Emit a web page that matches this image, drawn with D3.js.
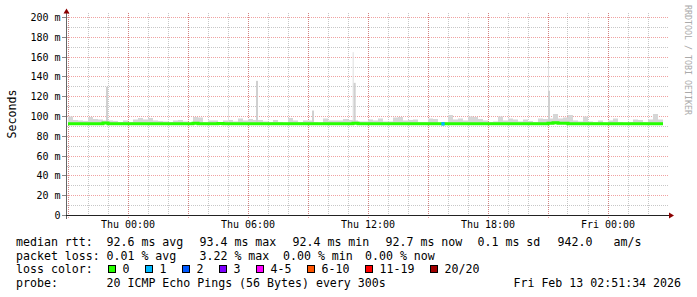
<!DOCTYPE html>
<html>
<head>
<meta charset="utf-8">
<script src="https://cdn.jsdelivr.net/npm/d3@7"></script>
<style>
  html, body { margin: 0; padding: 0; background: #fff; }
  svg { display: block; font-family: "DejaVu Sans Mono", monospace; }
  text { white-space: pre; }
</style>
</head>
<body>
<svg id="chart" width="697" height="297"></svg>
<script>
// time window of the graph (30 h ending at render time)
const startTime = new Date(2026, 1, 11, 20, 57);
const endTime = new Date(2026, 1, 13, 2, 57);
const binStart = new Date(2026, 1, 11, 21, 0);
const binMinutes = 15;

// upper edge of the smoke (max ping) per 15 min bin, ms
const smokeTop = [
  100, 96.5, 96, 95.5, 99.5, 97.5, 97, 96, 96, 95.5,
  94.5, 96, 94.5, 97, 98.5, 97, 98.5, 96, 95.5, 95,
  94.5, 96, 96.5, 95, 94, 99.5, 99, 94.5, 96, 96,
  94.5, 96, 96.5, 95, 98, 96, 97.5, 96.5, 96.5, 95,
  94.5, 96.5, 94.5, 94, 98.5, 96, 94.5, 96, 96, 94.5,
  94, 98, 96, 96, 96, 97.5, 96.5, 96, 95, 95,
  97, 96, 98, 95, 95, 99, 99.5, 96, 96.5, 97,
  94.5, 94.5, 98, 97.5, 94, 94.5, 101.5, 97, 98, 96,
  100, 99.5, 97.5, 96, 94.5, 95, 100, 96, 98, 97,
  95, 97, 95.5, 94.5, 98, 97.5, 98, 102.5, 98, 99,
  101.5, 96, 95, 100, 95, 94.5, 96, 94, 96, 98,
  94.5, 94, 94.5, 97, 96.5, 94.5, 97, 102.5, 97
];

// median rtt per bin, ms
const medianRtt = [
  92.6, 92.6, 92.6, 92.6, 92.6, 92.6, 92.6, 93.4, 92.6, 92.6,
  92.6, 92.6, 92.6, 92.6, 92.6, 92.6, 92.6, 92.6, 92.6, 92.6,
  92.6, 92.6, 92.6, 92.6, 92.6, 93.3, 92.6, 92.6, 92.6, 92.6,
  92.9, 92.6, 92.6, 92.6, 92.6, 92.6, 92.6, 92.6, 92.6, 92.6,
  92.6, 92.6, 92.6, 92.6, 92.6, 92.6, 92.6, 92.6, 92.6, 92.6,
  92.6, 92.6, 92.6, 92.6, 92.6, 92.6, 92.6, 93.3, 92.6, 92.6,
  92.6, 92.6, 92.6, 92.6, 92.6, 92.6, 92.6, 92.6, 92.6, 92.6,
  92.6, 92.6, 92.6, 92.6, 92.6, 92.6, 92.6, 92.6, 92.6, 92.6,
  92.6, 92.6, 92.6, 92.6, 92.6, 92.6, 92.6, 92.6, 92.6, 92.6,
  92.6, 92.6, 92.6, 92.6, 92.6, 92.6, 93.3, 93.6, 93.3, 93.2,
  92.6, 92.6, 92.6, 92.6, 92.6, 92.6, 92.6, 92.6, 92.6, 92.6,
  92.6, 92.6, 92.6, 92.6, 92.6, 92.6, 92.6, 92.6, 92.6
];

// short bursts of slow pings: [time, max ms, duration in minutes]
const spikes = [
  ["2026-02-11T22:54", 130, 6],
  ["2026-02-12T05:00", 108.5, 3],
  ["2026-02-12T06:24", 136, 6],
  ["2026-02-12T09:12", 106, 6],
  ["2026-02-12T11:14", 165, 3],
  ["2026-02-12T11:17", 134, 6],
  ["2026-02-12T21:00", 155, 3],
  ["2026-02-12T21:00", 126, 6]
];

// steps with packet loss: [time, lost pings, duration in minutes]
const lossSteps = [["2026-02-12T15:40", 1, 10]];

const yTicks = [0, 20, 40, 60, 80, 100, 120, 140, 160, 180, 200];
const yMinor = [10, 30, 50, 70, 90, 110, 130, 150, 170, 190];

const lossLabels = ["0", "1", "2", "3", "4-5", "6-10", "11-19", "20/20"];
const lossColors = ["#26ff00", "#00b8ff", "#0059ff", "#7e00ff", "#ff00ff", "#ff5500", "#ff0000", "#a10000"];

const rttLegend = ["median rtt:", "92.6 ms avg", "93.4 ms max", "92.4 ms min", "92.7 ms now", "0.1 ms sd", "942.0", "am/s"];
const lossLegend = ["packet loss:", "0.01 % avg", "3.22 % max", "0.00 % min", "0.00 % now"];
const probeLegend = ["probe:", "20 ICMP Echo Pings (56 Bytes) every 300s"];
const stampText = "Fri Feb 13 02:51:34 2026";

// where RRDtool put each legend field (px)
const rttCols = [16, 106.5, 199.5, 292.5, 385.5, 477.5, 557.5, 613.5];
const lossCols = [16, 106.5, 199.5, 283, 365];
const probeCols = [16, 106.5];

const svg = d3.select("#chart");
const x = d3.scaleTime().domain([startTime, endTime]).range([67, 667]);
const y = d3.scaleLinear().domain([0, 200]).range([215.5, 17.5]);
const crisp = (v) => Math.floor(v) + 0.5;
const binTime = (i) => d3.timeMinute.offset(binStart, i * binMinutes);

const gridMinor = "rgba(143,143,143,0.5)";
const gridMajor = "rgba(222,48,47,0.45)";

// grid
const grid = svg.append("g");
grid.selectAll("line.hmin").data(yMinor).join("line")
  .attr("x1", 67).attr("x2", 668)
  .attr("y1", (d) => crisp(y(d))).attr("y2", (d) => crisp(y(d)))
  .attr("stroke", gridMinor).attr("stroke-dasharray", "1,1");
grid.selectAll("line.vmin").data(x.ticks(d3.timeHour.every(1))).join("line")
  .attr("x1", (d) => crisp(x(d))).attr("x2", (d) => crisp(x(d)))
  .attr("y1", 13).attr("y2", 215)
  .attr("stroke", gridMinor).attr("stroke-dasharray", "1,1");
grid.selectAll("line.hmaj").data(yTicks.slice(1)).join("line")
  .attr("x1", 67).attr("x2", 668)
  .attr("y1", (d) => crisp(y(d))).attr("y2", (d) => crisp(y(d)))
  .attr("stroke", gridMajor).attr("stroke-dasharray", "1,1");
grid.selectAll("line.vmaj").data(x.ticks(d3.timeHour.every(3))).join("line")
  .attr("x1", (d) => crisp(x(d))).attr("x2", (d) => crisp(x(d)))
  .attr("y1", 13).attr("y2", 219)
  .attr("stroke", gridMajor).attr("stroke-dasharray", "1,1");

// smoke
const smoke = svg.append("g");
smoke.selectAll("rect.bin").data(smokeTop).join("rect")
  .attr("x", (d, i) => x(binTime(i)))
  .attr("width", (d, i) => x(binTime(i + 1)) - x(binTime(i)))
  .attr("y", (d) => y(d))
  .attr("height", (d) => y(92.2) - y(d))
  .attr("fill", "#d6d6d6");
smoke.selectAll("rect.spike").data(spikes).join("rect")
  .attr("x", (d) => x(new Date(d[0])))
  .attr("width", (d) => x(d3.timeMinute.offset(new Date(d[0]), d[2])) - x(new Date(d[0])))
  .attr("y", (d) => y(d[1]))
  .attr("height", (d) => y(92.2) - y(d[1]))
  .attr("fill", (d) => d[2] < 5 ? "#dedede" : "#d0d0d0");

// median line
const medianPts = medianRtt.map((v, i) => [binTime(i), v]);
medianPts.push([binTime(medianRtt.length), medianRtt[medianRtt.length - 1]]);
svg.append("path")
  .attr("d", d3.line().x((d) => x(d[0])).y((d) => y(d[1])).curve(d3.curveStepAfter)(medianPts))
  .attr("fill", "none").attr("stroke", lossColors[0]).attr("stroke-width", 3);

svg.selectAll("line.loss").data(lossSteps).join("line")
  .attr("x1", (d) => x(new Date(d[0])))
  .attr("x2", (d) => x(d3.timeMinute.offset(new Date(d[0]), d[2])))
  .attr("y1", y(92.6)).attr("y2", y(92.6))
  .attr("stroke", (d) => lossColors[d[1]]).attr("stroke-width", 3.5);

// axes
svg.append("line").attr("x1", 66.5).attr("x2", 66.5).attr("y1", 219).attr("y2", 12)
  .attr("stroke", "#666");
svg.append("line").attr("x1", 62).attr("x2", 669).attr("y1", 215.5).attr("y2", 215.5)
  .attr("stroke", "#222");
svg.append("path").attr("d", "M66.5,8.5L69.5,13.5L63.5,13.5Z").attr("fill", "#8b0000");
svg.append("path").attr("d", "M674,215.5L669,212.5L669,218.5Z").attr("fill", "#8b0000");

const yAxis = svg.append("g");
yAxis.selectAll("line").data(yTicks).join("line")
  .attr("x1", 62).attr("x2", 66)
  .attr("y1", (d) => crisp(y(d))).attr("y2", (d) => crisp(y(d)))
  .attr("stroke", "#888");
yAxis.selectAll("text").data(yTicks).join("text")
  .attr("x", 60.5).attr("y", (d) => crisp(y(d)) + 3.6)
  .attr("text-anchor", "end").attr("font-size", 10).attr("fill", "#000")
  .text((d) => d === 0 ? "0" : `${d} m`);

svg.append("g").selectAll("text").data(x.ticks(d3.timeHour.every(6))).join("text")
  .attr("x", (d) => x(d)).attr("y", 228)
  .attr("text-anchor", "middle").attr("font-size", 10).attr("fill", "#000")
  .text(d3.timeFormat("%a %H:%M"));

svg.append("text")
  .attr("transform", "translate(15.5,114) rotate(-90)")
  .attr("text-anchor", "middle").attr("font-size", 11.6).attr("fill", "#000")
  .text("Seconds");

svg.append("text")
  .attr("transform", "translate(684.5,5) rotate(90)")
  .attr("font-size", 8.3).attr("fill", "#aaaaaa")
  .text("RRDTOOL / TOBI OETIKER");

// legend
const legend = svg.append("g").attr("font-size", 11.6).attr("fill", "#000");
const rowY = (r) => 246 + r * 13.7;
function legendRow(fields, cols, r) {
  legend.selectAll(null).data(fields).join("text")
    .attr("x", (d, i) => cols[i]).attr("y", rowY(r))
    .text((d) => d);
}
legendRow(rttLegend, rttCols, 0);
legendRow(lossLegend, lossCols, 1);
legendRow(["loss color:"], [16], 2);
legendRow(probeLegend, probeCols, 3);
legend.append("text").attr("x", 681).attr("y", rowY(3))
  .attr("text-anchor", "end").text(stampText);

let lx = 108.5;
lossLabels.forEach((label, i) => {
  legend.append("rect").attr("x", lx).attr("y", 265.5).attr("width", 7).attr("height", 7)
    .attr("fill", lossColors[i]).attr("stroke", "#000");
  legend.append("text").attr("x", lx + 14).attr("y", rowY(2)).text(label);
  lx += 30 + 7 * label.length;
});
</script>
</body>
</html>
